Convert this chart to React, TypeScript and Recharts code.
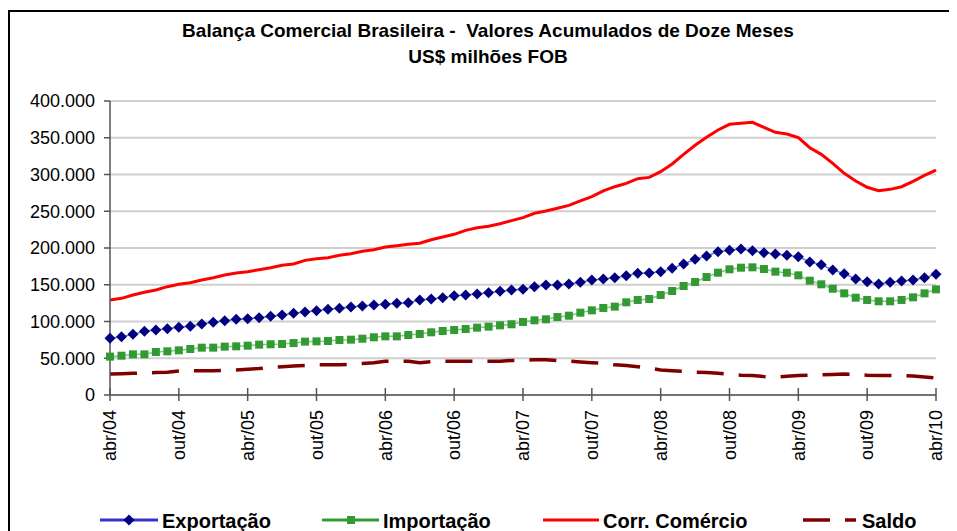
import { CartesianGrid, Line, LineChart, XAxis, YAxis } from "recharts";

const MESES = ["abr", "mai", "jun", "jul", "ago", "set", "out", "nov", "dez", "jan", "fev", "mar"];
const ANO_INICIAL = 4;

// US$ milhões FOB, acumulado 12 meses, abr/04 .. abr/10
const exportacao = [
  77100, 79400, 82500, 86600, 88400, 90200, 92100, 93400, 96600, 98900, 101100, 103000,
  103900, 105200, 107000, 108800, 111100, 112900, 114700, 116600, 118000, 119700, 121100, 122400,
  123400, 124700, 125600, 129300, 130600, 132400, 135100, 136000, 137400, 139200, 141000, 142900,
  144000, 147400, 149700, 149700, 151000, 153300, 156500, 157800, 159600, 162300, 165500, 166000,
  167800, 172300, 178200, 184600, 189100, 195000, 196800, 198600, 196400, 193600, 191800, 190000,
  188200, 181000, 177300, 170100, 165100, 157800, 154200, 151000, 153300, 155100, 156500, 159600,
  164200,
];

const importacao = [
  52200, 53500, 55300, 55300, 58500, 59400, 60800, 62600, 64400, 64400, 65800, 66200,
  67100, 68500, 69000, 69400, 70700, 72600, 73000, 73500, 74800, 75300, 76600, 78500,
  79800, 79800, 81600, 83000, 85300, 87100, 88400, 89800, 91600, 93000, 94800, 96200,
  99400, 101600, 103000, 106100, 107900, 112000, 115200, 118400, 120200, 126100, 129300, 130600,
  136000, 141500, 148300, 153700, 160500, 166400, 171000, 173200, 173700, 171400, 167800, 166400,
  162800, 155500, 150600, 144600, 138300, 132400, 129300, 127500, 127500, 129300, 132900, 138300,
  143800,
];

const corrente = [
  129300, 131500, 136000, 139700, 142900, 147400, 150600, 152800, 156500, 159600, 163300, 166000,
  167800, 170500, 173200, 176400, 178200, 183200, 185500, 186800, 190000, 192300, 195500, 197700,
  201400, 203200, 205000, 206400, 211300, 214900, 218600, 224000, 227600, 229500, 233100, 237200,
  241300, 247300, 250300, 254000, 258000, 264000, 269800, 277600, 283400, 288000, 294300, 296100,
  303900, 314300, 327400, 339700, 350600, 360500, 368300, 369600, 371000, 364200, 357400, 355100,
  350100, 336500, 327400, 315200, 301600, 291200, 282600, 278000, 279800, 283400, 290700, 298900,
  306100,
];

const saldo = [
  28500, 29000, 29500, 30000, 30500, 31000, 32500, 33000, 33000, 33000, 33500, 34000,
  35000, 36000, 37500, 38500, 39500, 40000, 41000, 41000, 41000, 42000, 43000, 44000,
  46000, 46000, 46000, 44000, 45500, 46000, 46000, 46000, 46000, 46000, 46000, 47000,
  47000, 48000, 48000, 47000, 46000, 45000, 44000, 43000, 41000, 40000, 38500, 36500,
  34000, 33000, 32000, 31000, 30500, 29500, 28000, 27000, 26500, 25000, 24500, 25500,
  26500, 27000, 27500, 28000, 28500, 28000, 27000, 26500, 26500, 26500, 26000, 24500,
  23000,
];

const yTicks = [0, 50000, 100000, 150000, 200000, 250000, 300000, 350000, 400000];

const data = exportacao.map((v, i) => ({
  mes: `${MESES[i % 12]}/${String(ANO_INICIAL + Math.floor((i + 3) / 12)).padStart(2, "0")}`,
  exportacao: v,
  importacao: importacao[i],
  corrente: corrente[i],
  saldo: saldo[i],
}));

const FONT = "Arial, 'Liberation Sans', sans-serif";
const AXIS = "#555555";

const fmt = (v: number) => String(v).replace(/\B(?=(\d{3})+(?!\d))/g, ".");

function Diamond({ cx, cy }: any) {
  if (cx == null || cy == null) return null;
  const r = 5.5;
  return (
    <polygon
      points={`${cx},${cy - r} ${cx + r},${cy} ${cx},${cy + r} ${cx - r},${cy}`}
      fill="#000080"
    />
  );
}

function Square({ cx, cy }: any) {
  if (cx == null || cy == null) return null;
  return <rect x={cx - 4} y={cy - 4} width={8} height={8} fill="#339933" />;
}

function MesTick({ x, y, payload }: any) {
  return (
    <g transform={`translate(${x},${y})`}>
      <line x1={0} x2={0} y1={-7} y2={6} stroke={AXIS} strokeWidth={1.5} />
      <text
        transform="rotate(-90)"
        x={-15}
        y={0}
        dy="0.35em"
        textAnchor="end"
        fontSize={18}
        fontFamily={FONT}
        fill="#000"
      >
        {payload.value}
      </text>
    </g>
  );
}

function Legenda() {
  const cy = 512;
  const txt = { fontSize: 20, fontWeight: 700, fontFamily: FONT, fill: "#000" };
  return (
    <g>
      <line x1={92} x2={150} y1={cy} y2={cy} stroke="#3333cc" strokeWidth={3} />
      <Diamond cx={121} cy={cy} />
      <text x={154} y={cy + 8} {...txt}>Exportação</text>

      <line x1={314} x2={371} y1={cy} y2={cy} stroke="#339933" strokeWidth={3} />
      <rect x={339} y={cy - 4} width={8} height={8} fill="#339933" />
      <text x={375} y={cy + 8} {...txt}>Importação</text>

      <line x1={535} x2={591} y1={cy} y2={cy} stroke="#ff0000" strokeWidth={3} />
      <text x={595} y={cy + 8} {...txt}>Corr. Comércio</text>

      <line x1={795} x2={822} y1={cy} y2={cy} stroke="#800000" strokeWidth={3.5} />
      <line x1={837} x2={848} y1={cy} y2={cy} stroke="#800000" strokeWidth={3.5} />
      <text x={854} y={cy + 8} {...txt}>Saldo</text>
    </g>
  );
}

export default function App() {
  return (
    <div style={{ position: "relative", width: 949, height: 523, overflow: "hidden", background: "#fff" }}>
      <div
        style={{
          position: "absolute",
          left: 0,
          top: 2,
          width: 1000,
          height: 1000,
          border: "2px solid #000",
        }}
      />
      <LineChart
        width={949}
        height={523}
        data={data}
        margin={{ top: 93, right: 21, bottom: 0, left: 0 }}
        style={{ position: "absolute", left: 0, top: 0 }}
      >
        <CartesianGrid vertical={false} stroke="#cfcfcf" strokeWidth={2} />
        <XAxis
          dataKey="mes"
          interval={5}
          height={136}
          tickLine={false}
          tickSize={0}
          tickMargin={0}
          axisLine={{ stroke: AXIS, strokeWidth: 1.5 }}
          tick={<MesTick />}
        />
        <YAxis
          width={102}
          domain={[0, 400000]}
          ticks={yTicks}
          tickFormatter={fmt}
          tickSize={6}
          tickMargin={9}
          axisLine={{ stroke: AXIS, strokeWidth: 1.5 }}
          tickLine={{ stroke: AXIS, strokeWidth: 1.5 }}
          tick={{ fontSize: 18, fontFamily: FONT, fill: "#000" }}
        />
        <Line
          dataKey="saldo"
          stroke="#800000"
          strokeWidth={3.5}
          strokeDasharray="27 15"
          dot={false}
          isAnimationActive={false}
        />
        <Line dataKey="corrente" stroke="#ff0000" strokeWidth={3} dot={false} isAnimationActive={false} />
        <Line
          dataKey="importacao"
          stroke="#7fc97f"
          strokeWidth={1.5}
          dot={<Square />}
          isAnimationActive={false}
        />
        <Line
          dataKey="exportacao"
          stroke="#7070e0"
          strokeWidth={1.5}
          dot={<Diamond />}
          isAnimationActive={false}
        />
      </LineChart>
      <svg width={949} height={523} style={{ position: "absolute", left: 0, top: 0, pointerEvents: "none" }}>
        <g
          fontFamily={FONT}
          fontWeight={700}
          fontSize={19}
          fill="#000"
          textAnchor="middle"
          style={{ whiteSpace: "pre" }}
        >
          <text x={480} y={29} xmlSpace="preserve">
            {"Balança Comercial Brasileira -  Valores Acumulados de Doze Meses"}
          </text>
          <text x={480} y={55}>US$ milhões FOB</text>
        </g>
        <Legenda />
      </svg>
    </div>
  );
}
